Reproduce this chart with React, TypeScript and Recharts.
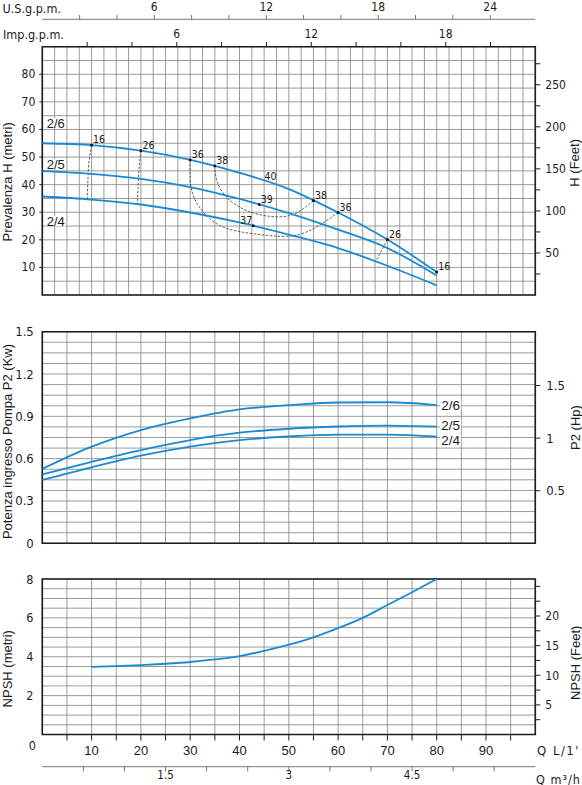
import React from 'react';
import { LineChart, Line, XAxis, YAxis, CartesianGrid, ReferenceDot, ReferenceArea } from 'recharts';

// ---------- unit conversions ----------
const M_TO_FT = 3.28084;
const KW_PER_HP = 0.7457;
const LPM_TO_USGPM = 0.264172;
const LPM_TO_IMPGPM = 0.219969;
const LPM_TO_M3H = 0.06;

const Q_MAX = 100;
const H_MAX = 90;
const P_MAX = 1.5;
const NPSH_MAX = 8;

// ---------- head curves: Q (L/min) -> H (m) ----------
const head26 = [
  { q: 0, h: 55.0 }, { q: 10, h: 54.3 }, { q: 20, h: 52.3 }, { q: 30, h: 49.0 },
  { q: 40, h: 44.3 }, { q: 50, h: 38.4 }, { q: 60, h: 29.9 }, { q: 70, h: 20.1 }, { q: 80, h: 8.3 },
];
const head25 = [
  { q: 0, h: 44.9 }, { q: 10, h: 43.9 }, { q: 20, h: 42.1 }, { q: 30, h: 39.1 },
  { q: 40, h: 34.8 }, { q: 50, h: 29.7 }, { q: 60, h: 23.7 }, { q: 70, h: 17.0 }, { q: 80, h: 7.1 },
];
const head24 = [
  { q: 0, h: 35.7 }, { q: 10, h: 34.6 }, { q: 20, h: 32.8 }, { q: 30, h: 29.9 },
  { q: 40, h: 26.3 }, { q: 50, h: 21.9 }, { q: 60, h: 17.0 }, { q: 70, h: 10.6 }, { q: 80, h: 3.5 },
];

// ---------- iso-efficiency curves ----------
const iso16 = [{ q: 10, h: 54.3 }, { q: 9.5, h: 49.0 }, { q: 9.3, h: 43.9 }, { q: 9.1, h: 34.6 }];
const iso26 = [{ q: 20, h: 52.3 }, { q: 19.6, h: 45.0 }, { q: 19.4, h: 38.0 }, { q: 19.3, h: 32.8 }];
const iso36 = [
  { q: 30, h: 49.0 }, { q: 30.3, h: 38.0 }, { q: 32.7, h: 30.0 }, { q: 36.7, h: 24.6 },
  { q: 42.8, h: 22.2 }, { q: 49.6, h: 21.3 }, { q: 54.3, h: 23.4 }, { q: 57.7, h: 27.0 }, { q: 60, h: 29.9 },
];
const iso38 = [
  { q: 35, h: 46.8 }, { q: 35.4, h: 41.5 }, { q: 37.4, h: 35.4 }, { q: 41.5, h: 30.6 },
  { q: 46.2, h: 28.5 }, { q: 50.2, h: 28.8 }, { q: 52.9, h: 31.2 }, { q: 55, h: 34.2 },
];
const iso26b = [{ q: 70, h: 20.1 }, { q: 68.8, h: 16.1 }, { q: 67.6, h: 12.2 }];

// efficiency marks (dot + label)
const effPoints = [
  { q: 10, h: 54.3, label: '16', left: false },
  { q: 20, h: 52.3, label: '26', left: false },
  { q: 30, h: 49.0, label: '36', left: false },
  { q: 35, h: 46.8, label: '38', left: false },
  { q: 44, h: 32.8, label: '39', left: false },
  { q: 42.8, h: 25.1, label: '37', left: true },
  { q: 55, h: 34.2, label: '38', left: false },
  { q: 60, h: 29.9, label: '36', left: false },
  { q: 70, h: 20.1, label: '26', left: false },
  { q: 80, h: 8.3, label: '16', left: false },
];
const effTextOnly = [{ q: 46.3, h: 43.3, label: '40' }];

const headLabels = [
  { q: 0.9, h: 62.1, label: '2/6' },
  { q: 0.9, h: 47.2, label: '2/5' },
  { q: 0.9, h: 26.6, label: '2/4' },
];

// ---------- power curves: Q (L/min) -> P2 (kW) ----------
const power26 = [
  { q: 0, p: 0.527 }, { q: 10, p: 0.685 }, { q: 20, p: 0.803 }, { q: 30, p: 0.886 }, { q: 40, p: 0.950 },
  { q: 50, p: 0.979 }, { q: 60, p: 0.998 }, { q: 70, p: 1.0 }, { q: 80, p: 0.980 },
];
const power25 = [
  { q: 0, p: 0.489 }, { q: 10, p: 0.578 }, { q: 20, p: 0.661 }, { q: 30, p: 0.732 }, { q: 40, p: 0.784 },
  { q: 50, p: 0.812 }, { q: 60, p: 0.828 }, { q: 70, p: 0.834 }, { q: 80, p: 0.827 },
];
const power24 = [
  { q: 0, p: 0.449 }, { q: 10, p: 0.539 }, { q: 20, p: 0.621 }, { q: 30, p: 0.685 }, { q: 40, p: 0.732 },
  { q: 50, p: 0.757 }, { q: 60, p: 0.770 }, { q: 70, p: 0.771 }, { q: 80, p: 0.756 },
];
const powerLabels = [
  { q: 80.9, p: 0.980, label: '2/6' },
  { q: 80.9, p: 0.838, label: '2/5' },
  { q: 80.9, p: 0.732, label: '2/4' },
];

// ---------- NPSH curve: Q (L/min) -> NPSH (m) ----------
const npsh = [
  { q: 10, n: 3.48 }, { q: 15, n: 3.52 }, { q: 20, n: 3.57 }, { q: 25, n: 3.64 }, { q: 30, n: 3.73 },
  { q: 35, n: 3.86 }, { q: 40, n: 4.03 }, { q: 45, n: 4.30 }, { q: 50, n: 4.62 }, { q: 55, n: 5.0 },
  { q: 60, n: 5.47 }, { q: 65, n: 6.0 }, { q: 70, n: 6.66 }, { q: 75, n: 7.32 }, { q: 80, n: 8.0 },
];

// ---------- ticks ----------
const range = (from: number, to: number, step: number) => {
  const out: number[] = [];
  const n = Math.round((to - from) / step);
  for (let i = 0; i <= n; i++) out.push(Math.round((from + i * step) * 1000) / 1000);
  return out;
};
const flowTicksFine = range(0, 100, 2.5);
const flowTicks = range(0, 100, 5);
const flowLabels = [10, 20, 30, 40, 50, 60, 70, 80, 90];
const usGpmTicks = [2, 4, 6, 8, 10, 12, 14, 16, 18, 20, 22, 24];
const usGpmLabels = [6, 12, 18, 24];
const impGpmTicks = [2, 4, 6, 8, 10, 12, 14, 16, 18, 20];
const impGpmLabels = [6, 12, 18];
const m3hTicks = [0.5, 1, 1.5, 2, 2.5, 3, 3.5, 4, 4.5, 5, 5.5];
const m3hLabels = [1.5, 3, 4.5];
const headTicks = range(0, 90, 5);
const headLabelsTick = [10, 20, 30, 40, 50, 60, 70, 80];
const headFtTicks = range(25, 275, 25);
const headFtLabels = [50, 100, 150, 200, 250];
const powerTicks = range(0, 1.5, 0.075);
const powerLabelsTick = [0, 0.3, 0.6, 0.9, 1.2, 1.5];
const powerHpTicks = [0.5, 1, 1.5];
const npshTicks = range(0, 8, 0.5);
const npshLabelsTick = [2, 4, 6, 8];
const npshFtTicks = range(2.5, 25, 2.5);
const npshFtLabels = [5, 10, 15, 20];

// secondary flow units expressed on the L/min scale
const toLpm = (list: number[], factor: number) => list.map((v) => v / factor);
const unitFmt = (labels: number[], factor: number) => (lpm: number) => {
  const v = Math.round(lpm * factor * 1000) / 1000;
  return has(labels, v) ? String(v) : '';
};

// ---------- styling ----------
const INK = '#1c1c1c';
const BLUE = '#1a8ad4';
const GRID = '#8e8e8e';
const ISO = '#3a3a3a';
const DIN = "'DejaVu Sans Condensed', 'DejaVu Sans', sans-serif";
const ARIAL = "'Liberation Sans', Arial, sans-serif";
const NARROW = "'Liberation Sans Narrow', 'DejaVu Sans Condensed', sans-serif";

function has(list: number[], v: number) {
  return list.some((l) => Math.abs(l - v) < 1e-6);
}
const labelFmt = (list: number[]) => (v: number) => (has(list, v) ? String(v) : '');

const EmptyTick = () => <g />;

const SideTick = (props: any) => {
  const { x, y, payload, labels, font, size, mark } = props;
  const v = payload.value;
  if (!has(labels, v)) return <g />;
  return (
    <g>
      {mark ? <line x1={x + 4} x2={x + 7} y1={y} y2={y} stroke={INK} strokeWidth={1} /> : null}
      <text x={x} y={y} textAnchor="end" dominantBaseline="central" fontFamily={font} fontSize={size} fill={INK}>
        {String(v)}
      </text>
    </g>
  );
};

const BottomTick = (props: any) => {
  const { x, y, payload } = props;
  const v = payload.value;
  if (v <= 0 || v >= Q_MAX) return <g />;
  return (
    <g>
      <line x1={x} x2={x} y1={y - 11} y2={y - 5} stroke={INK} strokeWidth={1} />
      {has(flowLabels, v) ? (
        <text x={x} y={y + 4.5} textAnchor="middle" dominantBaseline="central" fontFamily={ARIAL} fontSize={13} fill={INK}>
          {String(v)}
        </text>
      ) : null}
    </g>
  );
};

const M3Tick = (props: any) => {
  const { x, y, payload } = props;
  const label = unitFmt(m3hLabels, LPM_TO_M3H)(payload.value);
  if (!label) return <g />;
  return (
    <text x={x} y={y + 4} textAnchor="middle" dominantBaseline="central" fontFamily={DIN} fontSize={11.5} fill={INK}>
      {label}
    </text>
  );
};

const VTitle = (props: any) => {
  const { viewBox, text, ox, oy } = props;
  if (!viewBox) return null;
  const tx = viewBox.x + ox;
  const ty = viewBox.y + viewBox.height / 2 + oy;
  return (
    <text
      x={tx}
      y={ty}
      transform={`rotate(-90, ${tx}, ${ty})`}
      textAnchor="middle"
      dominantBaseline="central"
      fontFamily={ARIAL}
      fontSize={13}
      fill={INK}
    >
      {text}
    </text>
  );
};

const PlainText = (props: any) => {
  const { text, tx, ty, size, font, spacing, anchor } = props;
  return (
    <text x={tx} y={ty} dominantBaseline="central" textAnchor={anchor || 'start'} fontFamily={font || DIN} fontSize={size || 12} letterSpacing={spacing || 0} fill={INK}>
      {text}
    </text>
  );
};

const effDot = (label: string, left: boolean) => (p: any) => (
  <g>
    <rect x={p.cx - 1.2} y={p.cy - 1.2} width={2.4} height={2.4} fill="#000" />
    <text
      x={left ? p.cx - 1 : p.cx + 1.5}
      y={p.cy - 6}
      textAnchor={left ? 'end' : 'start'}
      dominantBaseline="central"
      fontFamily={DIN}
      fontSize={10.5}
      fill={INK}
    >
      {label}
    </text>
  </g>
);

const effText = (label: string) => (p: any) => (
  <text x={p.cx} y={p.cy} textAnchor="middle" dominantBaseline="central" fontFamily={DIN} fontSize={10.5} fill={INK}>
    {label}
  </text>
);

const curveLabel = (label: string, size: number) => (p: any) => (
  <g>
    <rect x={p.cx - 1} y={p.cy - 5.5} width={label.length * size * 0.47 + 2} height={10} fill="#fff" />
    <text x={p.cx} y={p.cy} textAnchor="start" dominantBaseline="central" fontFamily={ARIAL} fontSize={size} fill={INK}>
      {label}
    </text>
  </g>
);

const W = 582;
const AX_L = 42.3;
const AX_R = 46.7;

const HeadChart = () => (
  <LineChart width={W} height={300} data={head26} margin={{ top: 0, right: 0, bottom: 0, left: 0 }}>
    <CartesianGrid stroke={GRID} strokeWidth={0.9} />
    <XAxis xAxisId={0} dataKey="q" type="number" domain={[0, Q_MAX]} allowDataOverflow ticks={flowTicksFine} interval={0} tick={EmptyTick} tickLine={false} axisLine={false} height={5} />
    <XAxis
      xAxisId="imp"
      orientation="top"
      dataKey="q"
      type="number"
      domain={[0, Q_MAX]}
      allowDataOverflow
      ticks={toLpm(impGpmTicks, LPM_TO_IMPGPM)}
      interval={0}
      tickFormatter={unitFmt(impGpmLabels, LPM_TO_IMPGPM)}
      tick={{ fontFamily: DIN, fontSize: 12, fill: INK }}
      tickSize={4.7}
      tickMargin={4.5}
      axisLine={false}
      stroke={INK}
      height={27.4}
      label={<PlainText text="Imp.g.p.m." tx={3} ty={34} size={12.5} />}
    />
    <XAxis
      xAxisId="us"
      orientation="top"
      dataKey="q"
      type="number"
      domain={[0, Q_MAX]}
      allowDataOverflow
      ticks={toLpm(usGpmTicks, LPM_TO_USGPM)}
      interval={0}
      tickFormatter={unitFmt(usGpmLabels, LPM_TO_USGPM)}
      tick={{ fontFamily: DIN, fontSize: 12, fill: INK }}
      tickSize={4.3}
      tickMargin={3.8}
      axisLine={{ stroke: '#777', strokeWidth: 1 }}
      stroke="#777"
      height={19.3}
      label={<PlainText text="U.S.g.p.m." tx={2.5} ty={8} size={12.5} />}
    />
    <YAxis
      yAxisId={0}
      type="number"
      domain={[0, H_MAX]}
      allowDataOverflow
      ticks={headTicks}
      interval={0}
      width={AX_L}
      tickSize={3}
      tickMargin={4}
      tickLine={false}
      axisLine={false}
      tick={<SideTick labels={headLabelsTick} font={DIN} size={12} mark />}
      label={<VTitle text="Prevalenza H (metri)" ox={7.5} oy={11} />}
    />
    <YAxis
      yAxisId="ft"
      orientation="right"
      type="number"
      domain={[0, H_MAX * M_TO_FT]}
      allowDataOverflow
      ticks={headFtTicks}
      interval={0}
      width={AX_R}
      tickSize={5}
      tickMargin={5}
      stroke={INK}
      axisLine={false}
      tickFormatter={labelFmt(headFtLabels)}
      tick={{ fontFamily: DIN, fontSize: 12, fill: INK }}
      label={<VTitle text="H (Feet)" ox={39.7} oy={-8} />}
    />
    <ReferenceArea x1={0} x2={Q_MAX} y1={0} y2={H_MAX} fill="none" stroke={INK} strokeWidth={1.6} />
    {headLabels.map((c, i) => (
      <ReferenceDot key={'c' + i} x={c.q} y={c.h} r={1} shape={curveLabel(c.label, 13)} />
    ))}
    <Line data={iso16} dataKey="h" type="natural" stroke={ISO} strokeWidth={0.8} strokeDasharray="2.5 1.5" dot={false} isAnimationActive={false} />
    <Line data={iso26} dataKey="h" type="natural" stroke={ISO} strokeWidth={0.8} strokeDasharray="2.5 1.5" dot={false} isAnimationActive={false} />
    <Line data={iso36} dataKey="h" type="natural" stroke={ISO} strokeWidth={0.8} strokeDasharray="2.5 1.5" dot={false} isAnimationActive={false} />
    <Line data={iso38} dataKey="h" type="natural" stroke={ISO} strokeWidth={0.8} strokeDasharray="2.5 1.5" dot={false} isAnimationActive={false} />
    <Line data={iso26b} dataKey="h" type="natural" stroke={ISO} strokeWidth={0.8} strokeDasharray="2.5 1.5" dot={false} isAnimationActive={false} />
    <Line dataKey="h" type="monotone" stroke={BLUE} strokeWidth={1.8} dot={false} isAnimationActive={false} />
    <Line data={head25} dataKey="h" type="monotone" stroke={BLUE} strokeWidth={1.8} dot={false} isAnimationActive={false} />
    <Line data={head24} dataKey="h" type="monotone" stroke={BLUE} strokeWidth={1.8} dot={false} isAnimationActive={false} />
    {effPoints.map((e, i) => (
      <ReferenceDot key={'e' + i} x={e.q} y={e.h} r={1} shape={effDot(e.label, e.left)} />
    ))}
    {effTextOnly.map((e, i) => (
      <ReferenceDot key={'t' + i} x={e.q} y={e.h} r={1} shape={effText(e.label)} />
    ))}
  </LineChart>
);

const PowerChart = () => (
  <LineChart width={W} height={250} data={power26} margin={{ top: 31.7, right: 0, bottom: 0, left: 0 }}>
    <CartesianGrid stroke={GRID} strokeWidth={0.9} />
    <XAxis xAxisId={0} dataKey="q" type="number" domain={[0, Q_MAX]} allowDataOverflow ticks={flowTicks} interval={0} tick={EmptyTick} tickLine={false} axisLine={false} height={6.7} />
    <YAxis
      yAxisId={0}
      type="number"
      domain={[0, P_MAX]}
      allowDataOverflow
      ticks={powerTicks}
      interval={0}
      width={AX_L}
      tickSize={0}
      tickMargin={8.5}
      tickLine={false}
      axisLine={false}
      tick={<SideTick labels={powerLabelsTick} font={NARROW} size={13} />}
      label={<VTitle text="Potenza ingresso Pompa P2 (Kw)" ox={7.5} oy={4} />}
    />
    <YAxis
      yAxisId="hp"
      orientation="right"
      type="number"
      domain={[0, P_MAX / KW_PER_HP]}
      allowDataOverflow
      ticks={powerHpTicks}
      interval={0}
      width={AX_R}
      tickSize={5}
      tickMargin={6}
      stroke={INK}
      axisLine={false}
      tick={{ fontFamily: NARROW, fontSize: 13, fill: INK }}
      label={<VTitle text="P2 (Hp)" ox={39.7} oy={-10} />}
    />
    <ReferenceArea x1={0} x2={Q_MAX} y1={0} y2={P_MAX} fill="none" stroke={INK} strokeWidth={1.6} />
    <Line dataKey="p" type="monotone" stroke={BLUE} strokeWidth={1.8} dot={false} isAnimationActive={false} />
    <Line data={power25} dataKey="p" type="monotone" stroke={BLUE} strokeWidth={1.8} dot={false} isAnimationActive={false} />
    <Line data={power24} dataKey="p" type="monotone" stroke={BLUE} strokeWidth={1.8} dot={false} isAnimationActive={false} />
    {powerLabels.map((c, i) => (
      <ReferenceDot key={'p' + i} x={c.q} y={c.p} r={1} shape={curveLabel(c.label, 13.5)} />
    ))}
  </LineChart>
);

const NpshChart = () => (
  <LineChart width={W} height={225} data={npsh} margin={{ top: 19, right: 0, bottom: 0, left: 0 }}>
    <CartesianGrid stroke={GRID} strokeWidth={0.9} />
    <XAxis
      xAxisId={0}
      dataKey="q"
      type="number"
      domain={[0, Q_MAX]}
      allowDataOverflow
      ticks={flowTicks}
      interval={0}
      tickSize={6}
      tickMargin={5}
      tickLine={false}
      axisLine={false}
      tick={<BottomTick />}
      height={32.2}
      label={<PlainText text="Q L/1'" tx={537} ty={190} size={13} spacing={1.5} />}
    />
    <XAxis
      xAxisId="m3"
      dataKey="q"
      type="number"
      domain={[0, Q_MAX]}
      allowDataOverflow
      ticks={toLpm(m3hTicks, LPM_TO_M3H)}
      interval={0}
      tick={<M3Tick />}
      tickSize={4.7}
      tickMargin={0}
      axisLine={{ stroke: '#777', strokeWidth: 1 }}
      stroke="#777"
      height={18.3}
      label={<PlainText text="Q m³/h" tx={536} ty={219} size={12.5} spacing={1} />}
    />
    <YAxis
      yAxisId={0}
      type="number"
      domain={[0, NPSH_MAX]}
      allowDataOverflow
      ticks={npshTicks}
      interval={0}
      width={AX_L}
      tickSize={0}
      tickMargin={9}
      tickLine={false}
      axisLine={false}
      tick={<SideTick labels={npshLabelsTick} font={DIN} size={12.5} />}
      label={<VTitle text="NPSH (metri)" ox={7.5} oy={12} />}
    />
    <YAxis
      yAxisId="ft"
      orientation="right"
      type="number"
      domain={[0, NPSH_MAX * M_TO_FT]}
      allowDataOverflow
      ticks={npshFtTicks}
      interval={0}
      width={AX_R}
      tickSize={5}
      tickMargin={5}
      stroke={INK}
      axisLine={false}
      tickFormatter={labelFmt(npshFtLabels)}
      tick={{ fontFamily: DIN, fontSize: 12, fill: INK }}
      label={<VTitle text="NPSH (Feet)" ox={40.5} oy={6} />}
    />
    <ReferenceArea x1={0} x2={Q_MAX} y1={0} y2={NPSH_MAX} fill="none" stroke={INK} strokeWidth={1.6} />
    <Line dataKey="n" type="monotone" stroke={BLUE} strokeWidth={1.8} dot={false} isAnimationActive={false} />
    <ReferenceDot x={0} y={0} r={1} ifOverflow="visible" shape={(p: any) => <PlainText text="0" tx={p.cx - 10} ty={p.cy + 10.5} size={12.5} anchor="middle" />} />
  </LineChart>
);

export default function App() {
  return (
    <div style={{ position: 'absolute', left: 0, top: 0, width: 582, height: 785, background: '#fff', overflow: 'hidden' }}>
      <div style={{ position: 'absolute', left: 0, top: 0 }}>
        <HeadChart />
      </div>
      <div style={{ position: 'absolute', left: 0, top: 300 }}>
        <PowerChart />
      </div>
      <div style={{ position: 'absolute', left: 0, top: 560 }}>
        <NpshChart />
      </div>
    </div>
  );
}
